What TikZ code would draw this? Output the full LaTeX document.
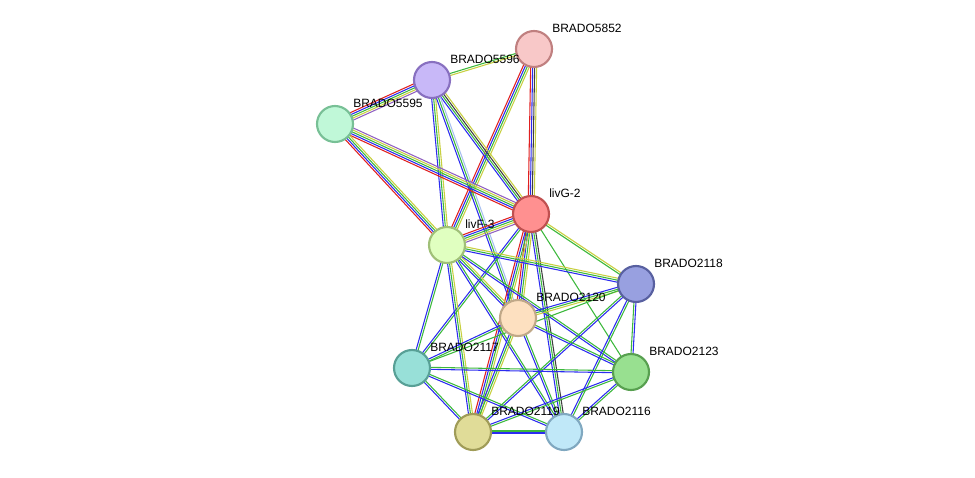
\documentclass[tikz,border=0pt]{standalone}
\usepackage{fontspec}
\setmainfont{Liberation Sans}
\usetikzlibrary{calc}
\definecolor{eg}{HTML}{3CB83C}
\definecolor{eb}{HTML}{2C2CF0}
\definecolor{er}{HTML}{E02020}
\definecolor{ey}{HTML}{C8D040}
\definecolor{ep}{HTML}{9060C0}
\definecolor{ek}{HTML}{404040}
\definecolor{el}{HTML}{A8C0F0}
\tikzset{
  prot/.style={circle, minimum size=27pt, inner sep=0pt, line width=1.6pt},
  lbl/.style={anchor=west, font=\fontsize{9}{10}\selectfont, inner sep=0pt},
  link/.style={line width=0.8pt}
}
% edge with parallel colored strands
\newcommand\edge[3]{%
  \foreach \c [count=\i] in {#3} {\global\let\nstr\i}
  \foreach \c [count=\i] in {#3} {
    \pgfmathsetmacro\off{(\i-(\nstr+1)/2)*1.5}
    \draw[link, \c] ($(#1.center)!\off pt!90:(#2.center)$) -- ($(#2.center)!\off pt!-90:(#1.center)$);
  }}
\begin{document}
\begin{tikzpicture}[x=0.75pt,y=-0.75pt]
\useasboundingbox (0,0) rectangle (975,478);

%coordinates of the proteins
\coordinate (p5852) at (534,49);
\coordinate (p5596) at (432,80);
\coordinate (p5595) at (335,124);
\coordinate (livG) at (531,214);
\coordinate (livF) at (447,245);
\coordinate (p2118) at (636,284);
\coordinate (p2120) at (518,318);
\coordinate (p2117) at (412,368);
\coordinate (p2123) at (631,372);
\coordinate (p2119) at (473,432);
\coordinate (p2116) at (564,432);

%links
\edge{p5852}{p5596}{eg,ey}
\edge{p5852}{livG}{er,eb,ek,ey}
\edge{p5852}{livF}{er,eb,eg,ey}
\edge{p5596}{p5595}{er,eb,eg,ey,ep}
\edge{p5596}{livG}{eb,eg,ek,ey}
\edge{p5596}{livF}{eb,eg,ey}
\edge{p5596}{p2120}{eb,eg,el}
\edge{p5595}{livG}{er,eb,eg,ey,ep}
\edge{p5595}{livF}{er,eb,eg,ey}
\edge{livG}{livF}{er,eb,eg,ey,ep}
\edge{livG}{p2118}{eg,ey}
\edge{livG}{p2120}{er,eb,eg,ey}
\edge{livG}{p2117}{eb,eg}
\edge{livG}{p2123}{eg}
\edge{livG}{p2119}{er,eb,eg,ey}
\edge{livG}{p2116}{eb,eg,ek}
\edge{livF}{p2118}{eb,eg,ey}
\edge{livF}{p2120}{eb,eg,ey}
\edge{livF}{p2117}{eb,eg}
\edge{livF}{p2123}{eb,eg}
\edge{livF}{p2119}{eb,eg,ey}
\edge{livF}{p2116}{eb,eg}
\edge{p2118}{p2120}{eb,eg,ey}
\edge{p2118}{p2117}{eg}
\edge{p2118}{p2123}{eg,eb}
\edge{p2118}{p2119}{eg,eb}
\edge{p2118}{p2116}{eb,eg}
\edge{p2120}{p2117}{eb,eg}
\edge{p2120}{p2123}{eb,eg}
\edge{p2120}{p2119}{eb,eg,ey}
\edge{p2120}{p2116}{eb,eg}
\edge{p2117}{p2123}{eb,eg}
\edge{p2117}{p2119}{eb,eg}
\edge{p2117}{p2116}{eb,eg}
\edge{p2123}{p2119}{eb,eg}
\edge{p2123}{p2116}{eb,eg}
\edge{p2119}{p2116}{eb,eg}

%proteins
\node[prot, fill={rgb,255:red,248;green,200;blue,200}, draw={rgb,255:red,192;green,128;blue,128}] (n5852) at (p5852) {};
\node[prot, fill={rgb,255:red,200;green,184;blue,248}, draw={rgb,255:red,136;green,112;blue,192}] (n5596) at (p5596) {};
\node[prot, fill={rgb,255:red,192;green,248;blue,216}, draw={rgb,255:red,120;green,192;blue,150}] (n5595) at (p5595) {};
\node[prot, fill={rgb,255:red,255;green,144;blue,144}, draw={rgb,255:red,192;green,80;blue,80}] (nlivG) at (livG) {};
\node[prot, fill={rgb,255:red,224;green,255;blue,192}, draw={rgb,255:red,160;green,192;blue,120}] (nlivF) at (livF) {};
\node[prot, fill={rgb,255:red,152;green,160;blue,224}, draw={rgb,255:red,88;green,96;blue,160}] (n2118) at (p2118) {};
\node[prot, fill={rgb,255:red,253;green,224;blue,192}, draw={rgb,255:red,192;green,168;blue,136}] (n2120) at (p2120) {};
\node[prot, fill={rgb,255:red,152;green,224;blue,216}, draw={rgb,255:red,88;green,160;blue,150}] (n2117) at (p2117) {};
\node[prot, fill={rgb,255:red,152;green,224;blue,144}, draw={rgb,255:red,88;green,160;blue,80}] (n2123) at (p2123) {};
\node[prot, fill={rgb,255:red,224;green,220;blue,152}, draw={rgb,255:red,160;green,156;blue,88}] (n2119) at (p2119) {};
\node[prot, fill={rgb,255:red,192;green,232;blue,248}, draw={rgb,255:red,128;green,168;blue,192}] (n2116) at (p2116) {};

%labels
\foreach \p/\t in {p5852/BRADO5852, p5596/BRADO5596, p5595/BRADO5595, livG/livG-2, livF/livF-3,
  p2118/BRADO2118, p2120/BRADO2120, p2117/BRADO2117, p2123/BRADO2123, p2119/BRADO2119, p2116/BRADO2116}
  \node[lbl] (t\p) at ($(\p)+(18,-21)$) {\t};
\end{tikzpicture}
\end{document}
